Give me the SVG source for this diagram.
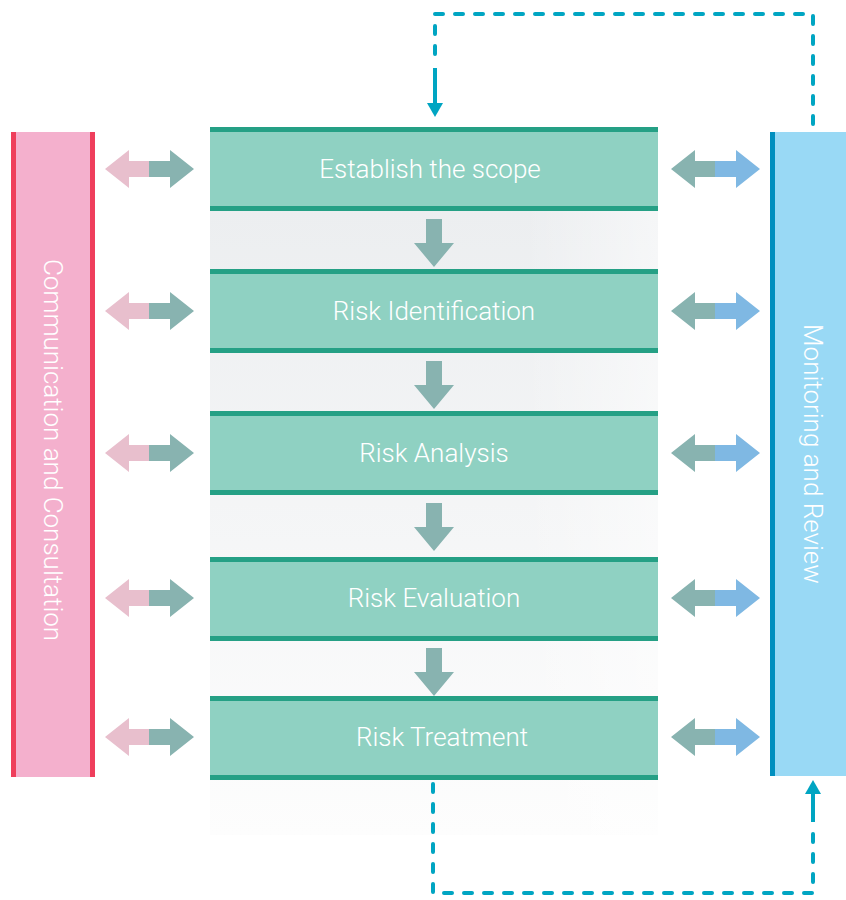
<svg xmlns="http://www.w3.org/2000/svg" width="846" height="900" viewBox="0 0 846 900">
<defs>
<style>
.box{fill:#8fd1c2}
.bd{fill:#25a085}
.lbl{font-family:Roboto,"Open Sans","Liberation Sans",sans-serif;font-weight:300;font-size:26px;fill:#ffffff;text-anchor:middle}
.vl{font-family:Roboto,"Open Sans","Liberation Sans",sans-serif;font-weight:300;font-size:26px;fill:#ffffff;text-anchor:middle}
.dash{fill:none;stroke:#00a5c2;stroke-width:4;stroke-linecap:round;stroke-dasharray:8 12}
.solid{fill:none;stroke:#00a5c2;stroke-width:4}
.tip{fill:#00a5c2}
.teal{fill:#88b3b0}
.pink{fill:#e8bfcd}
.blue{fill:#7fb8e3}
</style>
<linearGradient id="gap" x1="0" y1="0" x2="0" y2="1">
<stop offset="0" stop-color="#eceef0"/>
<stop offset="1" stop-color="#fdfdfd"/>
</linearGradient>
<linearGradient id="gh" x1="0" y1="0" x2="1" y2="0">
<stop offset="0.7" stop-color="#ffffff" stop-opacity="0"/>
<stop offset="1" stop-color="#ffffff" stop-opacity="0.5"/>
</linearGradient>
<g id="lr">
<polygon class="pink" points="105,0 129,-19 129,-8 149,-8 149,8 129,8 129,19"/>
<polygon class="teal" points="149,-8 170,-8 170,-19 194,0 170,19 170,8 149,8"/>
</g>
<g id="rr">
<polygon class="teal" points="671,0 695,-19 695,-8 715,-8 715,8 695,8 695,19"/>
<polygon class="blue" points="715,-8 736,-8 736,-19 760,0 736,19 736,8 715,8"/>
</g>
<g id="down">
<polygon class="teal" points="426,0 442,0 442,24 454,24 434,48 414,24 426,24"/>
</g>
</defs>
<rect width="846" height="900" fill="#ffffff"/>
<rect x="210" y="211" width="448" height="624" fill="url(#gap)"/>
<rect x="210" y="211" width="448" height="624" fill="url(#gh)"/>

<g id="comm">
<rect x="11" y="132" width="84" height="645" fill="#f4b0cd"/>
<rect x="11" y="132" width="5" height="645" fill="#ef3e5c"/>
<rect x="90" y="132" width="5" height="645" fill="#ef3e5c"/>
<text class="vl" transform="translate(44,450) rotate(90)">Communication and Consultation</text>
</g>

<g id="monitor">
<rect x="770" y="132" width="76" height="644" fill="#99d9f5"/>
<rect x="770" y="132" width="5" height="644" fill="#008fbf"/>
<text class="vl" transform="translate(804,454) rotate(90)">Monitoring and Review</text>
</g>

<g id="scope">
<rect class="box" x="210" y="127" width="448" height="84"/>
<rect class="bd" x="210" y="127" width="448" height="5"/>
<rect class="bd" x="210" y="206" width="448" height="5"/>
<text class="lbl" x="430" y="178">Establish the scope</text>
</g>
<g id="ident">
<rect class="box" x="210" y="269" width="448" height="84"/>
<rect class="bd" x="210" y="269" width="448" height="5"/>
<rect class="bd" x="210" y="348" width="448" height="5"/>
<text class="lbl" x="434" y="320">Risk Identification</text>
</g>
<g id="analysis">
<rect class="box" x="210" y="411" width="448" height="84"/>
<rect class="bd" x="210" y="411" width="448" height="5"/>
<rect class="bd" x="210" y="490" width="448" height="5"/>
<text class="lbl" x="434" y="462">Risk Analysis</text>
</g>
<g id="evaluation">
<rect class="box" x="210" y="557" width="448" height="84"/>
<rect class="bd" x="210" y="557" width="448" height="5"/>
<rect class="bd" x="210" y="636" width="448" height="5"/>
<text class="lbl" x="434" y="607">Risk Evaluation</text>
</g>
<g id="treatment">
<rect class="box" x="210" y="696" width="448" height="84"/>
<rect class="bd" x="210" y="696" width="448" height="5"/>
<rect class="bd" x="210" y="775" width="448" height="5"/>
<text class="lbl" x="442" y="746">Risk Treatment</text>
</g>

<g id="connectors">
<use href="#down" y="219"/>
<use href="#down" y="361"/>
<use href="#down" y="503"/>
<use href="#down" y="648"/>
<use href="#lr" y="169"/>
<use href="#lr" y="311"/>
<use href="#lr" y="453"/>
<use href="#lr" y="598"/>
<use href="#lr" y="737"/>
<use href="#rr" y="169"/>
<use href="#rr" y="311"/>
<use href="#rr" y="453"/>
<use href="#rr" y="598"/>
<use href="#rr" y="737"/>
<path class="dash" d="M813,124 L813,14 L435,14 L435,64"/>
<path class="solid" d="M435,68 L435,104"/>
<polygon class="tip" points="427,103 443,103 435,117"/>
<path class="dash" d="M433,784 L433,893 L813,893 L813,826"/>
<path class="solid" d="M813,822 L813,792"/>
<polygon class="tip" points="805,794 821,794 813,780"/>
</g>
</svg>
